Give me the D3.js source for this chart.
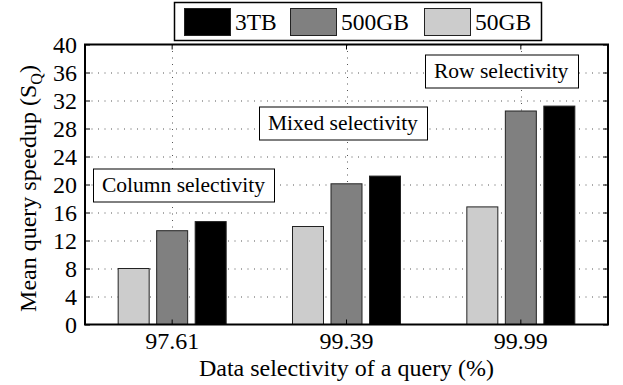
<!DOCTYPE html>
<html>
<head>
<meta charset="utf-8">
<script src="https://cdn.jsdelivr.net/npm/d3@7"></script>
<style>
  html, body { margin: 0; padding: 0; background: #fff; }
  svg { display: block; }
</style>
</head>
<body>
<svg id="chart" width="623" height="385"></svg>
<script>
const categories = ['97.61', '99.39', '99.99'];
const series = ['50GB', '500GB', '3TB'];
const legendOrder = ['3TB', '500GB', '50GB'];
const values = {
  '50GB': [8.0, 14.0, 16.8],
  '500GB': [13.4, 20.1, 30.5],
  '3TB': [14.7, 21.2, 31.2]
};
const yTicks = [0, 4, 8, 12, 16, 20, 24, 28, 32, 36, 40];
const notes = ['Column selectivity', 'Mixed selectivity', 'Row selectivity'];
// where each note box sits: left edge (px from plot left), vertical centre (y value)
const notePos = [[8, 20.0], [174, 28.8], [340, 36.2]];

const colors = { '50GB': '#cccccc', '500GB': '#808080', '3TB': '#000000' };
const FONT = 'Liberation Serif';

const margin = { left: 85, top: 44.5, right: 15, bottom: 60.5 };
const W = 623, H = 385;
const pw = W - margin.left - margin.right;
const ph = H - margin.top - margin.bottom;

const svg = d3.select('#chart').attr('font-family', FONT);
const g = svg.append('g').attr('transform', `translate(${margin.left},${margin.top})`);

const x = d3.scaleBand().domain(categories).range([0, pw]);
const xs = d3.scaleBand().domain(series).range([-54, 54]).paddingInner(0.195);
const y = d3.scaleLinear().domain([0, 40]).range([ph, 0]);

// dotted grid
const grid = g.append('g').attr('stroke', '#555').attr('stroke-width', 1).attr('stroke-dasharray', '1,5.5');
grid.selectAll('line.h').data(yTicks.slice(1, -1)).enter().append('line')
  .attr('x1', 0).attr('x2', pw)
  .attr('y1', d => Math.round(y(d)) + 0.5).attr('y2', d => Math.round(y(d)) + 0.5);
grid.selectAll('line.v').data(categories).enter().append('line')
  .attr('x1', d => Math.round(x(d) + x.bandwidth() / 2) + 0.5)
  .attr('x2', d => Math.round(x(d) + x.bandwidth() / 2) + 0.5)
  .attr('y1', 0).attr('y2', ph);

// bars
const groups = g.selectAll('g.grp').data(categories).enter().append('g')
  .attr('transform', d => `translate(${x(d) + x.bandwidth() / 2},0)`);
groups.selectAll('rect').data((d, i) => series.map(s => ({ s, v: values[s][i] }))).enter().append('rect')
  .attr('x', d => xs(d.s))
  .attr('width', xs.bandwidth())
  .attr('y', d => y(d.v))
  .attr('height', d => ph - y(d.v))
  .attr('fill', d => colors[d.s])
  .attr('stroke', '#222')
  .attr('stroke-width', 1);

// note boxes
notes.forEach((t, i) => {
  const [lx, vy] = notePos[i];
  const ng = g.append('g');
  const txt = ng.append('text').attr('x', lx + 9).attr('y', y(vy)).attr('dy', '0.33em')
    .attr('font-family', FONT).attr('font-size', 21.5).text(t);
  const bb = txt.node().getBBox();
  ng.insert('rect', 'text')
    .attr('x', lx + 0.5).attr('y', Math.round(y(vy) - 16.5) + 0.5)
    .attr('width', Math.round(bb.width + 18)).attr('height', 33)
    .attr('fill', '#fff').attr('stroke', '#000').attr('stroke-width', 1);
});

// axes
const yAxis = g.append('g').call(d3.axisLeft(y).tickValues(yTicks).tickSize(-5).tickPadding(8));
const yAxisR = g.append('g').attr('transform', `translate(${pw},0)`)
  .call(d3.axisRight(y).tickValues(yTicks).tickSize(-5).tickFormat(''));
const xAxis = g.append('g').attr('transform', `translate(0,${ph})`)
  .call(d3.axisBottom(x).tickSize(-5).tickPadding(8));
const xAxisT = g.append('g').call(d3.axisTop(x).tickSize(-5).tickFormat(''));
[yAxis, yAxisR, xAxis, xAxisT].forEach(a => {
  a.attr('font-family', FONT).attr('font-size', 24);
  a.select('.domain').remove();
  a.selectAll('line').attr('stroke', '#000');
  a.selectAll('text').attr('fill', '#000').attr('font-family', FONT);
});
xAxis.selectAll('text').attr('dy', '0.7em');

g.append('rect').attr('x', 0).attr('y', 0).attr('width', pw).attr('height', ph)
  .attr('fill', 'none').attr('stroke', '#000').attr('stroke-width', 2);

// axis labels
svg.append('text').attr('x', margin.left + pw / 2).attr('y', 376)
  .attr('text-anchor', 'middle').attr('font-family', FONT).attr('font-size', 24)
  .text('Data selectivity of a query (%)');
const yl = svg.append('text').attr('transform', `translate(36,${margin.top + ph / 2 + 4}) rotate(-90)`)
  .attr('text-anchor', 'middle').attr('font-family', FONT).attr('font-size', 24);
yl.append('tspan').text('Mean query speedup (S');
yl.append('tspan').attr('font-size', 16).attr('dy', 6).text('Q');
yl.append('tspan').attr('dy', -6).text(')');

// legend
const lg = svg.append('g');
lg.append('rect').attr('x', 174.5).attr('y', 2.5).attr('width', 367).attr('height', 38)
  .attr('fill', '#fff').attr('stroke', '#000').attr('stroke-width', 1.5);
const legX = [184, 290, 424];
legendOrder.forEach((s, i) => {
  lg.append('rect').attr('x', legX[i] + 0.5).attr('y', 8.5).attr('width', 46).attr('height', 27)
    .attr('fill', colors[s]).attr('stroke', '#222');
  lg.append('text').attr('x', legX[i] + 51).attr('y', 22).attr('dy', '0.35em')
    .attr('font-family', FONT).attr('font-size', 23.5).text(s);
});
</script>
</body>
</html>
